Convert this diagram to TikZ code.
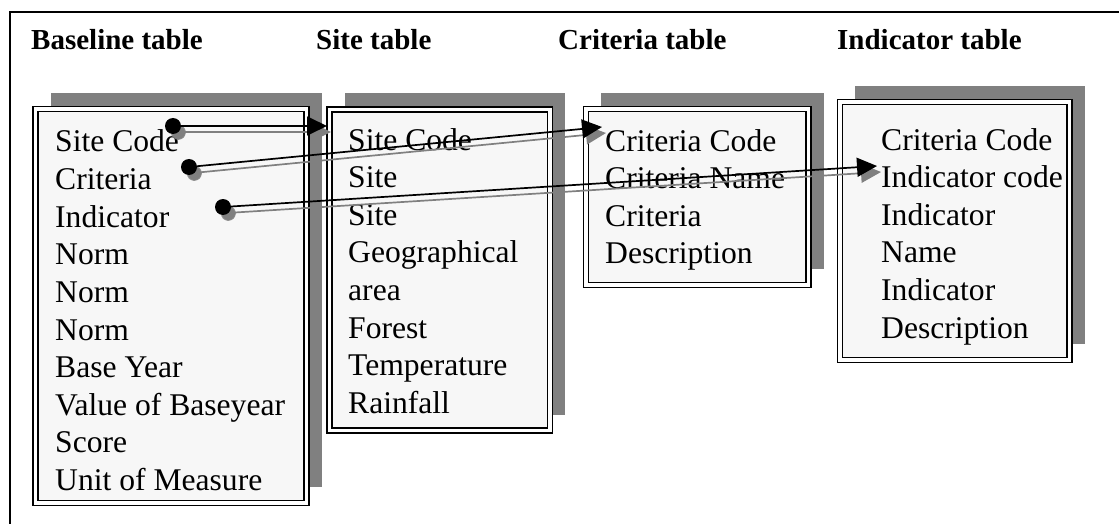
\documentclass[tikz,border=0pt]{standalone}
\usepackage{fontspec}
\setmainfont{Liberation Serif}
\usetikzlibrary{arrows.meta}
\usetikzlibrary{shadows}

\begin{document}
\begin{tikzpicture}[x=1pt,y=-1pt,
	title/.style={anchor=base west,inner sep=0,font=\fontsize{29}{32}\selectfont\bfseries},
	field/.style={anchor=base west,inner sep=0,font=\fontsize{31.6}{37.6}\selectfont},
	tbl/.style={rectangle,inner sep=0,outer sep=0,draw=black,line width=1.5pt,
		double=white,double distance=3.5pt,fill=black!3,
		drop shadow={shadow xshift=15pt,shadow yshift=16pt,shadow scale=1,fill=gray,opacity=1}},
	dot/.style={circle,fill=black,inner sep=0,minimum size=16pt,
		circular drop shadow={shadow xshift=5pt,shadow yshift=-6pt,shadow scale=1,fill=gray,opacity=1}},
	link/.style={line width=1.7pt,-{Triangle[length=20pt,width=19pt]}},
	linkshadow/.style={link,draw=gray,fill=gray,transform canvas={shift={(4pt,-6pt)}}}]
		\useasboundingbox (0,0) rectangle (1119,524);
		\draw[line width=1.8pt] (1119,12) -- (10,12) -- (10,524);
		% titles
		\node[title] (T0) at (31,50) {Baseline table};
		\node[title] (T1) at (316,50) {Site table};
		\node[title] (T2) at (558,50) {Criteria table};
		\node[title] (T3) at (837,50) {Indicator table};
		% tables
		\node[tbl,minimum width=271pt,minimum height=394pt] (R0) at (171,306) {};
		\node[tbl,minimum width=220.5pt,minimum height=321pt] (R1) at (439.75,270) {};
		\node[tbl,minimum width=222.5pt,minimum height=176pt] (R2) at (697.25,197) {};
		\node[tbl,minimum width=229.5pt,minimum height=258pt] (R3) at (954.75,231) {};
		\node[field] (L0) at (55,152) {\begin{tabular}[t]{@{}l@{}}
			Site Code\\ Criteria\\ Indicator\\ Norm\\ Norm\\ Norm\\ Base Year\\
			Value of Baseyear\\ Score\\ Unit of Measure\end{tabular}};
		\node[field] (L1) at (348,150) {\begin{tabular}[t]{@{}l@{}}
			Site Code\\ Site\\ Site\\ Geographical\\ area\\ Forest\\ Temperature\\
			Rainfall\end{tabular}};
		\node[field] (L2) at (605,151) {\begin{tabular}[t]{@{}l@{}}
			Criteria Code\\ Criteria Name\\ Criteria\\ Description\end{tabular}};
		\node[field] (L3) at (881,150) {\begin{tabular}[t]{@{}l@{}}
			Criteria Code\\ Indicator code\\ Indicator\\ Name\\ Indicator\\
			Description\end{tabular}};
		% links
		\coordinate (E0) at (327,126);
		\coordinate (E1) at (602,127);
		\coordinate (E2) at (877,166);
		\coordinate (S0) at (173,126);
		\coordinate (S1) at (189,167);
		\coordinate (S2) at (223,207);
		\draw[linkshadow] (S0) -- (E0);
		\draw[linkshadow] (S1) -- (E1);
		\draw[linkshadow] (S2) -- (E2);
		\node[dot] (D0) at (S0) {};
		\node[dot] (D1) at (S1) {};
		\node[dot] (D2) at (S2) {};
		\draw[link] (D0) -- (E0);
		\draw[link] (D1) -- (E1);
		\draw[link] (D2) -- (E2);
\end{tikzpicture}
\end{document}
